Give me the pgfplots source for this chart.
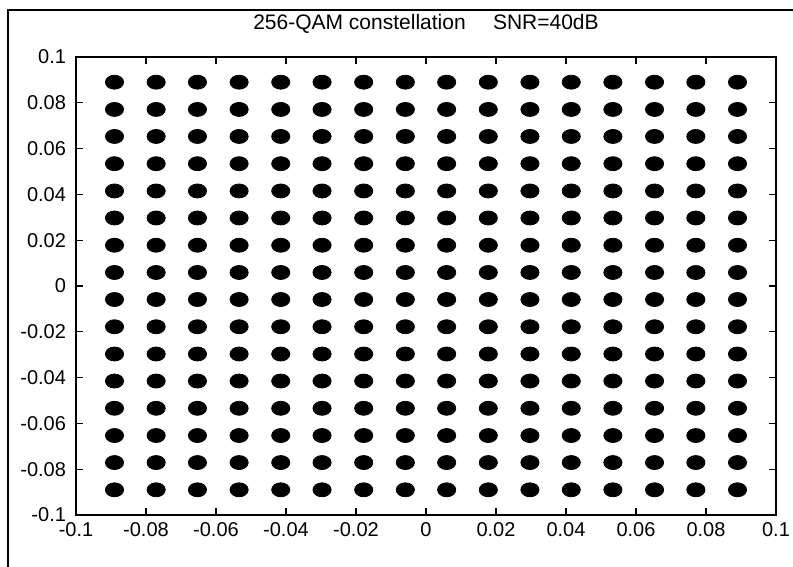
\documentclass[border=0pt]{standalone}
\usepackage{pgfplots}
\pgfplotsset{compat=1.18}
\usepackage{fontspec}
\setmainfont{Liberation Sans}

% received symbols of a 256-QAM constellation: one blob per ideal level,
% the outermost level sits at 0.089
\pgfplotsset{qam/.style={only marks, mark=*, mark size=3.5pt,
    mark options={draw=black, fill=black, xscale=1.3}}}

\begin{document}
\begin{tikzpicture}
\useasboundingbox (0pt,0pt) rectangle (396.5pt,283.5pt);
% figure frame
\draw[line width=1pt] (3.75pt,0pt) -- (3.75pt,278.5pt) -- (396.5pt,278.5pt);
\begin{axis}[
  at={(38pt,26pt)}, anchor=south west,
  scale only axis, width=350pt, height=229pt,
  xmin=-0.1, xmax=0.1, ymin=-0.1, ymax=0.1,
  xtick={-0.1,-0.08,-0.06,-0.04,-0.02,0,0.02,0.04,0.06,0.08,0.1},
  ytick={-0.1,-0.08,-0.06,-0.04,-0.02,0,0.02,0.04,0.06,0.08,0.1},
  scaled ticks=false,
  tick label style={font=\fontsize{10}{12}\selectfont,
    /pgf/number format/assume math mode=true,
    /pgf/number format/fixed, /pgf/number format/precision=2},
  yticklabel style={xshift=-1.5pt},
  tick align=inside, major tick length=3.5pt,
  tick style={black, line width=0.6pt},
  axis line style={line width=0.8pt},
  title={256-QAM constellation\hspace{1.3em}SNR=40dB},
  title style={font=\fontsize{10.5}{12}\selectfont, at={(0.5,1)}, anchor=base, yshift=7.5pt},
]
\addplot[qam] coordinates {(-0.0890,0.0890) (-0.0771,0.0890) (-0.0653,0.0890) (-0.0534,0.0890) (-0.0415,0.0890) (-0.0297,0.0890) (-0.0178,0.0890) (-0.0059,0.0890) (0.0059,0.0890) (0.0178,0.0890) (0.0297,0.0890) (0.0415,0.0890) (0.0534,0.0890) (0.0653,0.0890) (0.0771,0.0890) (0.0890,0.0890)};
\addplot[qam] coordinates {(-0.0890,0.0771) (-0.0771,0.0771) (-0.0653,0.0771) (-0.0534,0.0771) (-0.0415,0.0771) (-0.0297,0.0771) (-0.0178,0.0771) (-0.0059,0.0771) (0.0059,0.0771) (0.0178,0.0771) (0.0297,0.0771) (0.0415,0.0771) (0.0534,0.0771) (0.0653,0.0771) (0.0771,0.0771) (0.0890,0.0771)};
\addplot[qam] coordinates {(-0.0890,0.0653) (-0.0771,0.0653) (-0.0653,0.0653) (-0.0534,0.0653) (-0.0415,0.0653) (-0.0297,0.0653) (-0.0178,0.0653) (-0.0059,0.0653) (0.0059,0.0653) (0.0178,0.0653) (0.0297,0.0653) (0.0415,0.0653) (0.0534,0.0653) (0.0653,0.0653) (0.0771,0.0653) (0.0890,0.0653)};
\addplot[qam] coordinates {(-0.0890,0.0534) (-0.0771,0.0534) (-0.0653,0.0534) (-0.0534,0.0534) (-0.0415,0.0534) (-0.0297,0.0534) (-0.0178,0.0534) (-0.0059,0.0534) (0.0059,0.0534) (0.0178,0.0534) (0.0297,0.0534) (0.0415,0.0534) (0.0534,0.0534) (0.0653,0.0534) (0.0771,0.0534) (0.0890,0.0534)};
\addplot[qam] coordinates {(-0.0890,0.0415) (-0.0771,0.0415) (-0.0653,0.0415) (-0.0534,0.0415) (-0.0415,0.0415) (-0.0297,0.0415) (-0.0178,0.0415) (-0.0059,0.0415) (0.0059,0.0415) (0.0178,0.0415) (0.0297,0.0415) (0.0415,0.0415) (0.0534,0.0415) (0.0653,0.0415) (0.0771,0.0415) (0.0890,0.0415)};
\addplot[qam] coordinates {(-0.0890,0.0297) (-0.0771,0.0297) (-0.0653,0.0297) (-0.0534,0.0297) (-0.0415,0.0297) (-0.0297,0.0297) (-0.0178,0.0297) (-0.0059,0.0297) (0.0059,0.0297) (0.0178,0.0297) (0.0297,0.0297) (0.0415,0.0297) (0.0534,0.0297) (0.0653,0.0297) (0.0771,0.0297) (0.0890,0.0297)};
\addplot[qam] coordinates {(-0.0890,0.0178) (-0.0771,0.0178) (-0.0653,0.0178) (-0.0534,0.0178) (-0.0415,0.0178) (-0.0297,0.0178) (-0.0178,0.0178) (-0.0059,0.0178) (0.0059,0.0178) (0.0178,0.0178) (0.0297,0.0178) (0.0415,0.0178) (0.0534,0.0178) (0.0653,0.0178) (0.0771,0.0178) (0.0890,0.0178)};
\addplot[qam] coordinates {(-0.0890,0.0059) (-0.0771,0.0059) (-0.0653,0.0059) (-0.0534,0.0059) (-0.0415,0.0059) (-0.0297,0.0059) (-0.0178,0.0059) (-0.0059,0.0059) (0.0059,0.0059) (0.0178,0.0059) (0.0297,0.0059) (0.0415,0.0059) (0.0534,0.0059) (0.0653,0.0059) (0.0771,0.0059) (0.0890,0.0059)};
\addplot[qam] coordinates {(-0.0890,-0.0059) (-0.0771,-0.0059) (-0.0653,-0.0059) (-0.0534,-0.0059) (-0.0415,-0.0059) (-0.0297,-0.0059) (-0.0178,-0.0059) (-0.0059,-0.0059) (0.0059,-0.0059) (0.0178,-0.0059) (0.0297,-0.0059) (0.0415,-0.0059) (0.0534,-0.0059) (0.0653,-0.0059) (0.0771,-0.0059) (0.0890,-0.0059)};
\addplot[qam] coordinates {(-0.0890,-0.0178) (-0.0771,-0.0178) (-0.0653,-0.0178) (-0.0534,-0.0178) (-0.0415,-0.0178) (-0.0297,-0.0178) (-0.0178,-0.0178) (-0.0059,-0.0178) (0.0059,-0.0178) (0.0178,-0.0178) (0.0297,-0.0178) (0.0415,-0.0178) (0.0534,-0.0178) (0.0653,-0.0178) (0.0771,-0.0178) (0.0890,-0.0178)};
\addplot[qam] coordinates {(-0.0890,-0.0297) (-0.0771,-0.0297) (-0.0653,-0.0297) (-0.0534,-0.0297) (-0.0415,-0.0297) (-0.0297,-0.0297) (-0.0178,-0.0297) (-0.0059,-0.0297) (0.0059,-0.0297) (0.0178,-0.0297) (0.0297,-0.0297) (0.0415,-0.0297) (0.0534,-0.0297) (0.0653,-0.0297) (0.0771,-0.0297) (0.0890,-0.0297)};
\addplot[qam] coordinates {(-0.0890,-0.0415) (-0.0771,-0.0415) (-0.0653,-0.0415) (-0.0534,-0.0415) (-0.0415,-0.0415) (-0.0297,-0.0415) (-0.0178,-0.0415) (-0.0059,-0.0415) (0.0059,-0.0415) (0.0178,-0.0415) (0.0297,-0.0415) (0.0415,-0.0415) (0.0534,-0.0415) (0.0653,-0.0415) (0.0771,-0.0415) (0.0890,-0.0415)};
\addplot[qam] coordinates {(-0.0890,-0.0534) (-0.0771,-0.0534) (-0.0653,-0.0534) (-0.0534,-0.0534) (-0.0415,-0.0534) (-0.0297,-0.0534) (-0.0178,-0.0534) (-0.0059,-0.0534) (0.0059,-0.0534) (0.0178,-0.0534) (0.0297,-0.0534) (0.0415,-0.0534) (0.0534,-0.0534) (0.0653,-0.0534) (0.0771,-0.0534) (0.0890,-0.0534)};
\addplot[qam] coordinates {(-0.0890,-0.0653) (-0.0771,-0.0653) (-0.0653,-0.0653) (-0.0534,-0.0653) (-0.0415,-0.0653) (-0.0297,-0.0653) (-0.0178,-0.0653) (-0.0059,-0.0653) (0.0059,-0.0653) (0.0178,-0.0653) (0.0297,-0.0653) (0.0415,-0.0653) (0.0534,-0.0653) (0.0653,-0.0653) (0.0771,-0.0653) (0.0890,-0.0653)};
\addplot[qam] coordinates {(-0.0890,-0.0771) (-0.0771,-0.0771) (-0.0653,-0.0771) (-0.0534,-0.0771) (-0.0415,-0.0771) (-0.0297,-0.0771) (-0.0178,-0.0771) (-0.0059,-0.0771) (0.0059,-0.0771) (0.0178,-0.0771) (0.0297,-0.0771) (0.0415,-0.0771) (0.0534,-0.0771) (0.0653,-0.0771) (0.0771,-0.0771) (0.0890,-0.0771)};
\addplot[qam] coordinates {(-0.0890,-0.0890) (-0.0771,-0.0890) (-0.0653,-0.0890) (-0.0534,-0.0890) (-0.0415,-0.0890) (-0.0297,-0.0890) (-0.0178,-0.0890) (-0.0059,-0.0890) (0.0059,-0.0890) (0.0178,-0.0890) (0.0297,-0.0890) (0.0415,-0.0890) (0.0534,-0.0890) (0.0653,-0.0890) (0.0771,-0.0890) (0.0890,-0.0890)};
\end{axis}
\end{tikzpicture}
\end{document}
